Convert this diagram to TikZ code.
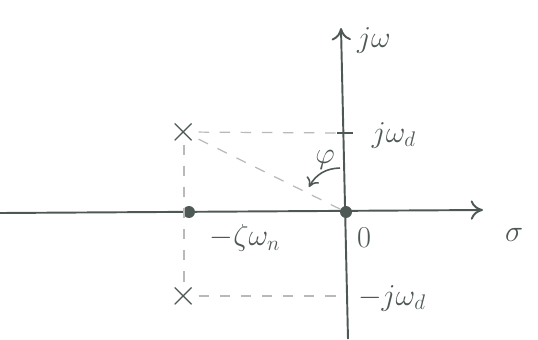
\documentclass[tikz,border=0pt]{standalone}
\usetikzlibrary{arrows.meta}
\definecolor{pen}{RGB}{78,88,84}
\begin{document}
\begin{tikzpicture}[x=0.02cm, y=-0.02cm, every node/.style={font=\LARGE, text=pen},
  axis/.style={draw=pen, line width=1.1pt},
  guide/.style={draw=gray!55, dashed, dash pattern=on 6pt off 6pt, line width=0.7pt},
  dot/.style={circle, fill=pen, inner sep=2.4pt}]
\useasboundingbox (0,0) rectangle (538,339);
% axes
\coordinate (xl) at (0,213); \coordinate (xr) at (483,210);
\coordinate (yb) at (348,339); \coordinate (yt) at (341,28);
\draw[axis, -{To[length=7pt, width=11pt]}] (xl) -- (xr);
\draw[axis, -{To[length=7pt, width=11pt]}] (yb) -- (yt);
\node[dot] (o) at (346,212) {};
\node[dot] (z) at (189,212) {};
\coordinate (wd) at (343,133); \coordinate (mwd) at (345,296);
\draw[axis] (337,133) -- (353,133);
% poles
\node[inner sep=0pt, font=\huge] (p1) at (184,132) {$\times$};
\node[inner sep=0pt, font=\huge] (p2) at (184,296) {$\times$};
\draw[guide] (p1) -- (wd);
\draw[guide] (p1) -- (o);
\draw[guide] (p1) -- (p2);
\draw[guide] (p2) -- (mwd);
% angle
\node (phi) at (325,160) {$\varphi$};
\coordinate (a1) at (340,168); \coordinate (a2) at (309,187);
\draw[axis, line width=0.9pt, -{To[length=5pt, width=8pt]}] (a1) to[bend right=30] (a2);
% labels
\node (jw) at (374,40) {$j\omega$};
\node (jwd) at (394,135) {$j\omega_d$};
\node (mjwd) at (392,298) {$-j\omega_d$};
\node (zwn) at (245,238) {$-\zeta\omega_n$};
\node (zero) at (364,238) {$0$};
\node (sig) at (514,235) {$\sigma$};
\end{tikzpicture}
\end{document}
